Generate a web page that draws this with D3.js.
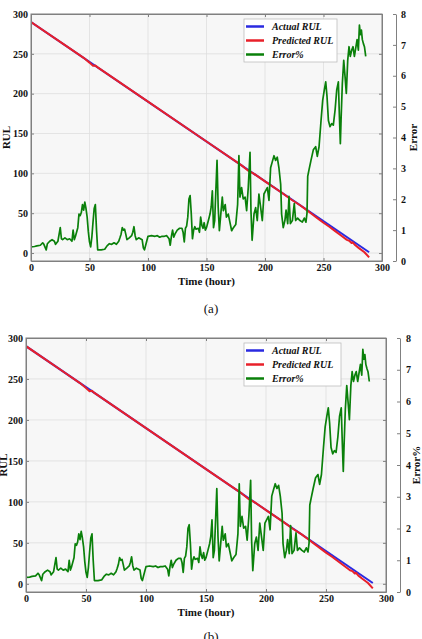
<!DOCTYPE html>
<html>
<head>
<meta charset="utf-8">
<title>RUL prediction</title>
<style>
body { margin: 0; background: #fff; }
svg { display: block; }
.axis text { font: bold 10px "Liberation Serif", serif; fill: #111; }
.axis path, .axis line { stroke: #808080; }
.grid line { stroke: #dedede; stroke-width: 0.8; }
.lbl { font: bold 11px "Liberation Serif", serif; fill: #111; }
.leg { font: italic bold 10px "Liberation Serif", serif; fill: #111; }
.cap { font: 13px "Liberation Serif", serif; fill: #111; }
.line { fill: none; stroke-linejoin: round; }
</style>
<script src="https://d3js.org/d3.v7.min.js"></script>
</head>
<body>
<svg id="chart" width="422" height="639"></svg>
<script>

// ---- data ----
var rulHours = [0, 289];
var actualRul = [290, 1];

var predHours = [0, 30, 45, 50, 53, 55, 57, 100, 150, 180, 186, 190, 200, 215, 222, 230, 236, 240, 245, 250, 255, 260, 265, 270, 272, 274, 275, 277, 280, 285, 289];
var predictedRul = [290, 260, 245, 239, 235, 235.5, 233, 190, 140, 110, 103, 100, 90, 75, 67.5, 60, 53.5, 49, 43.5, 38, 33, 27.5, 22, 16.5, 15.5, 12.5, 13.5, 10, 6.5, 1, -5.5];

var errHours = [0, 3, 5, 8, 10, 11, 13, 14, 16, 18, 20, 21, 23, 25, 26, 27, 29, 31, 33, 35, 36, 37, 38, 40,
  41, 42, 43, 44, 45, 46, 47, 48, 49, 50, 51, 52, 53, 54, 55, 56, 57, 60, 63, 65, 67, 69, 71, 73, 75, 76,
  77, 78, 79, 80, 81, 82, 84, 86, 87, 88, 89, 90, 92, 95, 96, 97, 98, 100, 103, 106, 108, 110, 112, 114,
  116, 118, 119, 120, 121, 122, 123, 125, 127, 129, 130, 131, 132, 133, 134, 135, 136, 137, 138, 139, 140,
  141, 143, 144, 145, 146, 147, 148, 149, 150, 151.6, 153, 154, 155, 156, 157, 159, 160, 161, 162, 163.5,
  164.4, 166, 167, 168.6, 170, 171.5, 173, 175, 176.6, 177.7, 178.6, 180, 181.4, 183, 184.3, 185.7, 187.2,
  188, 189, 190.6, 192, 193.4, 194.8, 196.3, 197.7, 199.1, 200.5, 202, 203.4, 204.8, 206.2, 207.7, 209.1,
  210.5, 211.9, 213.4, 214.2, 215.6, 217, 218, 219.4, 220.5, 221.7, 223.4, 225, 226.2, 227.9, 229.9, 231.9,
  233.6, 235, 235.9, 236.5, 237.6, 239.3, 241.3, 243.3, 244.7, 246.2, 247.9, 249.3, 250.7, 251.9, 253,
  254.2, 255.6, 257, 258.4, 259.9, 261.3, 262.7, 263.6, 264.4, 265, 266.1, 267.3, 268.4, 269.5, 270.7,
  271.8, 272.9, 274.1, 275.2, 276.4, 277.5, 278.7, 279.8, 280.7, 281.5, 282.4, 283.2, 284.1, 285, 286.1];
var errorPct = [0.46, 0.47, 0.49, 0.51, 0.59, 0.54, 0.36, 0.56, 0.64, 0.69, 0.64, 0.54, 0.64, 1.08, 0.72, 0.69, 0.75, 0.69, 0.72, 0.64, 1.00, 0.69, 0.80, 1.08,
  1.52, 1.47, 1.57, 1.83, 1.65, 1.91, 1.70, 1.42, 0.95, 0.62, 0.46, 0.77, 1.26, 1.70, 1.83, 1.00, 0.36, 0.36, 0.38, 0.49, 0.56, 0.54, 0.59, 0.54, 0.64, 0.75,
  0.87, 1.08, 1.00, 1.03, 0.87, 0.69, 0.75, 0.82, 0.93, 1.11, 0.82, 0.69, 0.75, 0.69, 0.43, 0.36, 0.51, 0.80, 0.82, 0.80, 0.82, 0.77, 0.80, 0.80,
  0.82, 0.72, 0.51, 0.80, 1.00, 0.77, 0.87, 1.00, 1.06, 1.06, 0.93, 0.62, 1.06, 1.13, 1.42, 2.01, 2.12, 1.52, 0.72, 1.00, 1.11,
  1.03, 1.06, 0.93, 1.42, 1.16, 1.06, 1.24, 1.00, 1.08, 1.31, 1.52, 1.75, 2.27, 1.08, 1.31, 3.26, 1.73, 0.98, 1.42, 2.07,
  1.63, 1.83, 1.42, 1.52, 1.26, 0.98, 1.08, 1.18, 1.83, 3.41, 2.07, 2.38, 2.01, 2.07, 1.63, 2.38, 3.52,
  1.63, 0.67, 1.52, 1.73, 1.31, 2.17, 1.73, 1.31, 2.17, 2.27, 2.38, 1.96, 3.02, 3.21, 3.41, 3.26,
  3.36, 3.02, 2.48, 1.52, 1.08, 1.31, 1.65, 1.21, 2.09, 1.21, 1.31, 1.86, 1.31, 1.39, 1.31, 1.26,
  1.39, 1.26, 1.55, 2.74, 2.95, 3.26, 3.60, 3.70, 3.39, 3.70, 4.55, 5.20, 5.54, 5.80, 5.33,
  4.55, 4.35, 4.45, 4.40, 4.89, 5.54, 5.80, 4.68, 3.80, 4.55, 5.75, 6.50, 5.98, 5.43, 6.50,
  6.94, 6.63, 6.83, 6.94, 6.63, 6.89, 7.17, 6.83, 7.64, 7.33, 7.48, 7.17, 7.04, 6.94, 6.63];

var timeTicks = [0, 50, 100, 150, 200, 250, 300];
var rulTicks = [0, 50, 100, 150, 200, 250, 300];
var errTicks = [0, 1, 2, 3, 4, 5, 6, 7, 8];
var legendNames = ["Actual RUL", "Predicted RUL", "Error%"];
var colors = ["#2a2ae0", "#e8202a", "#0a800a"];

var svg = d3.select("#chart");

function drawPanel(p) {
  var x = d3.scaleLinear().domain([0, 300]).range([p.left, p.right]);
  var y = d3.scaleLinear().domain([-10, 300]).range([p.bottom, p.top]);
  var y2 = d3.scaleLinear().domain([0, 8]).range([p.bottom, p.top]);

  var g = svg.append("g");

  // plot background
  g.append("rect")
    .attr("x", p.left).attr("y", p.top)
    .attr("width", p.right - p.left).attr("height", p.bottom - p.top)
    .attr("fill", "#f7f7f7");

  // grid
  var grid = g.append("g").attr("class", "grid");
  grid.selectAll(".gx").data(timeTicks.slice(1, -1)).enter().append("line")
    .attr("x1", function(d) { return x(d); }).attr("x2", function(d) { return x(d); })
    .attr("y1", p.top).attr("y2", p.bottom);
  grid.selectAll(".gy").data(rulTicks.slice(0, -1)).enter().append("line")
    .attr("y1", function(d) { return y(d); }).attr("y2", function(d) { return y(d); })
    .attr("x1", p.left).attr("x2", p.right);

  // lines
  var clipId = "clip" + p.id;
  svg.append("clipPath").attr("id", clipId).append("rect")
    .attr("x", p.left).attr("y", p.top)
    .attr("width", p.right - p.left).attr("height", p.bottom - p.top);
  var lines = g.append("g").attr("clip-path", "url(#" + clipId + ")");

  var rulLine = d3.line()
    .x(function(d) { return x(d[0]); })
    .y(function(d) { return y(d[1]); });
  var errLine = d3.line()
    .x(function(d) { return x(d[0]); })
    .y(function(d) { return y2(d[1]); });

  lines.append("path").datum(d3.zip(rulHours, actualRul))
    .attr("class", "line").attr("stroke", colors[0]).attr("stroke-width", 2)
    .attr("d", rulLine);
  lines.append("path").datum(d3.zip(predHours, predictedRul))
    .attr("class", "line").attr("stroke", colors[1]).attr("stroke-width", 2)
    .attr("d", rulLine);
  lines.append("path").datum(d3.zip(errHours, errorPct))
    .attr("class", "line").attr("stroke", colors[2]).attr("stroke-width", 1.7)
    .attr("d", errLine);

  // box with inward ticks
  g.append("rect")
    .attr("x", p.left).attr("y", p.top)
    .attr("width", p.right - p.left).attr("height", p.bottom - p.top)
    .attr("fill", "none").attr("stroke", "#808080");

  g.append("g").attr("class", "axis")
    .attr("transform", "translate(0," + p.bottom + ")")
    .call(d3.axisBottom(x).tickValues(timeTicks).tickSize(-3).tickSizeOuter(0).tickPadding(3));
  g.append("g").attr("class", "axis")
    .attr("transform", "translate(0," + p.top + ")")
    .call(d3.axisTop(x).tickValues(timeTicks).tickSize(-3).tickSizeOuter(0).tickFormat(""));
  g.append("g").attr("class", "axis")
    .attr("transform", "translate(" + p.left + ",0)")
    .call(d3.axisLeft(y).tickValues(rulTicks).tickSize(-3).tickSizeOuter(0).tickPadding(3));
  g.append("g").attr("class", "axis")
    .attr("transform", "translate(" + p.right + ",0)")
    .call(d3.axisRight(y).tickValues(rulTicks).tickSize(-3).tickSizeOuter(0).tickFormat(""));

  // separate right axis for error
  g.append("g").attr("class", "axis")
    .attr("transform", "translate(" + p.axis2 + ",0)")
    .call(d3.axisRight(y2).tickValues(errTicks).tickSize(-3).tickSizeOuter(0).tickPadding(p.pad2));

  g.selectAll(".axis .domain").attr("stroke", "#808080");

  // axis titles
  g.append("text").attr("class", "lbl")
    .attr("x", (p.left + p.right) / 2).attr("y", p.bottom + 24)
    .attr("text-anchor", "middle").text("Time (hour)");
  g.append("text").attr("class", "lbl")
    .attr("transform", "translate(" + p.rulX + "," + (p.top + p.bottom) / 2 + ") rotate(-90)")
    .attr("text-anchor", "middle").attr("dy", "0.35em").text("RUL");
  g.append("text").attr("class", "lbl")
    .attr("transform", "translate(" + p.errX + "," + (p.top + p.bottom) / 2 + ") rotate(-90)")
    .attr("text-anchor", "middle").attr("dy", "0.35em").text(p.errTitle);

  // legend
  var lg = g.append("g").attr("transform", "translate(" + p.leg[0] + "," + p.leg[1] + ")");
  lg.append("rect").attr("width", p.leg[2]).attr("height", 43)
    .attr("fill", "#fff").attr("stroke", "#bdbdbd").attr("stroke-width", 0.8);
  legendNames.forEach(function(name, i) {
    var yy = 7.5 + i * 14;
    lg.append("line").attr("x1", 2).attr("x2", 20).attr("y1", yy).attr("y2", yy)
      .attr("stroke", colors[i]).attr("stroke-width", 2.5);
    lg.append("text").attr("class", "leg").attr("x", 28).attr("y", yy + 3.5).text(name);
  });

  // caption
  g.append("text").attr("class", "cap")
    .attr("x", 211).attr("y", p.capY).attr("text-anchor", "middle").text(p.cap);
}

drawPanel({ id: "a", left: 31, right: 382, top: 14, bottom: 261, axis2: 396, pad2: 5,
  rulX: 6, errX: 413, errTitle: "Error", leg: [244, 19, 93], cap: "(a)", capY: 313 });
drawPanel({ id: "b", left: 26, right: 386, top: 338, bottom: 592, axis2: 400, pad2: 6,
  rulX: 3, errX: 416, errTitle: "Error%", leg: [244, 343, 97], cap: "(b)", capY: 641 });

</script>
</body>
</html>
